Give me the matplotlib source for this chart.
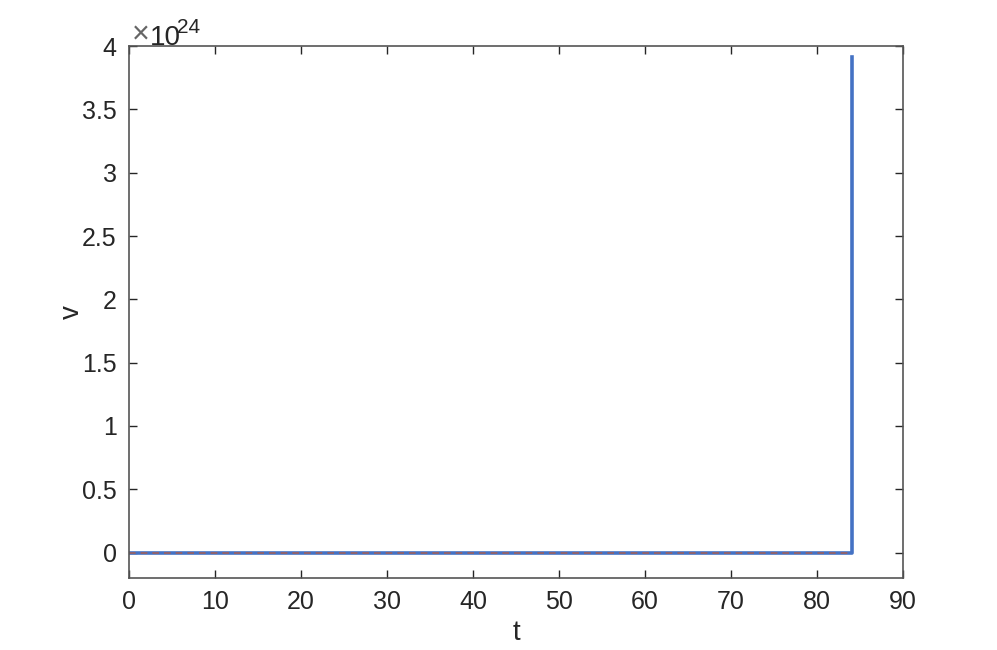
import matplotlib
matplotlib.use("Agg")
import matplotlib.pyplot as plt
from matplotlib.ticker import FuncFormatter

# solution blows up near t = 84
t = [0, 84.03, 84.03]
v = [0, 0, 3.913e24]

# reference line at zero
t_ref = [0, 84.03]
v_ref = [0, 0]

xticks = [0, 10, 20, 30, 40, 50, 60, 70, 80, 90]
yticks = [0, 0.5e24, 1e24, 1.5e24, 2e24, 2.5e24, 3e24, 3.5e24, 4e24]
scale = 1e24

plt.rcParams['font.family'] = ['Liberation Sans', 'DejaVu Sans']

fig = plt.figure(figsize=(9.97, 6.5), dpi=100)
ax = fig.add_axes([0.1294, 0.1108, 0.7763, 0.8184])

ax.plot(t, v, color='#4472C4', lw=2.6)
ax.plot(t_ref, v_ref, color='#D95319', lw=1.2, ls=(0, (4, 3)), alpha=0.6)

ax.set_xlim(0, 90)
ax.set_ylim(-0.2e24, 4e24)
ax.set_xticks(xticks)
ax.set_yticks(yticks)
ax.yaxis.set_major_formatter(FuncFormatter(lambda y, pos: '%g' % (y / scale)))

# matlab style exponent above the axes
ax.text(0.004, 1.004, '\u00d7', transform=ax.transAxes, fontsize=22,
        color='#666666', ha='left', va='baseline')
ax.text(0.027, 1.002, '10', transform=ax.transAxes, fontsize=20,
        color='#262626', ha='left', va='baseline')
ax.text(0.0625, 1.0244, '24', transform=ax.transAxes, fontsize=15,
        color='#262626', ha='left', va='baseline')

ax.tick_params(direction='in', length=6, width=1, top=True, right=True,
               labelsize=18, colors='#262626', pad=9)
for s in ax.spines.values():
    s.set_color('#555555')
    s.set_linewidth(1.2)

ax.set_xlabel('t', fontsize=20, color='#262626', labelpad=4)
ax.set_ylabel('v', fontsize=20, color='#262626', va='center')
ax.yaxis.set_label_coords(-0.0736, 0.5)

fig.savefig('out.png', dpi=100)
